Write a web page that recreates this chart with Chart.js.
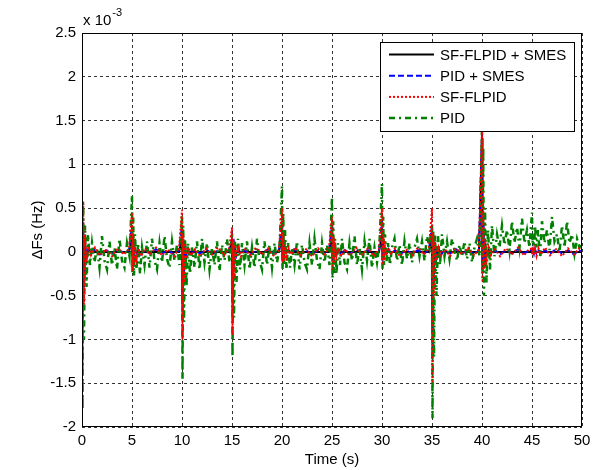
<!DOCTYPE html>
<html>
<head>
<meta charset="utf-8">
<script src="https://cdn.jsdelivr.net/npm/chart.js@4.4.1/dist/chart.umd.min.js"></script>
<style>
    html, body { margin: 0; padding: 0; background: #fff; }
    #freqChart { display: block; }
</style>
</head>
<body>
<canvas id="freqChart" width="596" height="470"></canvas>
<script>
// time axis for the controller responses with SMES / fuzzy (coarser sampling)
const tCoarse = [
    0, 0.05, 0.12, 0.2, 0.3, 0.45, 0.65, 0.9, 1.3, 1.8, 2.4, 3, 3.6, 4.2, 4.7,
    5, 5.05, 5.12, 5.2, 5.3, 5.45, 5.65, 5.9, 6.3, 6.8, 7.4, 8, 8.6, 9.2, 9.7,
    10, 10.05, 10.12, 10.2, 10.3, 10.45, 10.65, 10.9, 11.3, 11.8, 12.4, 13, 13.6, 14.2, 14.7,
    15, 15.05, 15.12, 15.2, 15.3, 15.45, 15.65, 15.9, 16.3, 16.8, 17.4, 18, 18.6, 19.2, 19.7,
    20, 20.05, 20.12, 20.2, 20.3, 20.45, 20.65, 20.9, 21.3, 21.8, 22.4, 23, 23.6, 24.2, 24.7,
    25, 25.05, 25.12, 25.2, 25.3, 25.45, 25.65, 25.9, 26.3, 26.8, 27.4, 28, 28.6, 29.2, 29.7,
    30, 30.05, 30.12, 30.2, 30.3, 30.45, 30.65, 30.9, 31.3, 31.8, 32.4, 33, 33.6, 34.2, 34.7,
    35, 35.05, 35.12, 35.2, 35.3, 35.45, 35.65, 35.9, 36.3, 36.8, 37.4, 38, 38.6, 39.2, 39.7,
    40, 40.05, 40.12, 40.2, 40.3, 40.45, 40.65, 40.9, 41.3, 41.8, 42.4, 43, 43.6, 44.2, 44.7,
    45, 45.05, 45.12, 45.2, 45.3, 45.45, 45.65, 45.9, 46.3, 46.8, 47.4, 48, 48.6, 49.2, 49.7,
    50
];

// time axis for plain PID (it oscillates, so sampled finer)
const tPid = [
    0, 0.05, 0.12, 0.2, 0.3, 0.45, 0.6, 0.8, 1, 1.25, 1.5, 1.75, 2, 2.25, 2.5, 2.75, 3, 3.25, 3.5, 3.75, 4, 4.25, 4.5, 4.75,
    5, 5.05, 5.12, 5.2, 5.3, 5.45, 5.6, 5.8, 6, 6.25, 6.5, 6.75, 7, 7.25, 7.5, 7.75, 8, 8.25, 8.5, 8.75, 9, 9.25, 9.5, 9.75,
    10, 10.05, 10.12, 10.2, 10.3, 10.45, 10.6, 10.8, 11, 11.25, 11.5, 11.75, 12, 12.25, 12.5, 12.75, 13, 13.25, 13.5, 13.75, 14, 14.25, 14.5, 14.75,
    15, 15.05, 15.12, 15.2, 15.3, 15.45, 15.6, 15.8, 16, 16.25, 16.5, 16.75, 17, 17.25, 17.5, 17.75, 18, 18.25, 18.5, 18.75, 19, 19.25, 19.5, 19.75,
    20, 20.05, 20.12, 20.2, 20.3, 20.45, 20.6, 20.8, 21, 21.25, 21.5, 21.75, 22, 22.25, 22.5, 22.75, 23, 23.25, 23.5, 23.75, 24, 24.25, 24.5, 24.75,
    25, 25.05, 25.12, 25.2, 25.3, 25.45, 25.6, 25.8, 26, 26.25, 26.5, 26.75, 27, 27.25, 27.5, 27.75, 28, 28.25, 28.5, 28.75, 29, 29.25, 29.5, 29.75,
    30, 30.05, 30.12, 30.2, 30.3, 30.45, 30.6, 30.8, 31, 31.25, 31.5, 31.75, 32, 32.25, 32.5, 32.75, 33, 33.25, 33.5, 33.75, 34, 34.25, 34.5, 34.75,
    35, 35.05, 35.12, 35.2, 35.3, 35.45, 35.6, 35.8, 36, 36.25, 36.5, 36.75, 37, 37.25, 37.5, 37.75, 38, 38.25, 38.5, 38.75, 39, 39.25, 39.5, 39.75,
    40, 40.05, 40.12, 40.2, 40.3, 40.45, 40.6, 40.8, 41, 41.25, 41.5, 41.75, 42, 42.25, 42.5, 42.75, 43, 43.25, 43.5, 43.75, 44, 44.25, 44.5, 44.75,
    45, 45.05, 45.12, 45.2, 45.3, 45.45, 45.6, 45.8, 46, 46.25, 46.5, 46.75, 47, 47.25, 47.5, 47.75, 48, 48.25, 48.5, 48.75, 49, 49.25, 49.5, 49.75,
    50
];

// deviation values in units of 1e-3 Hz
const sfflpidSmes = [
    0, -0.7, 0.2, -0.25, 0.05, -0.03, 0.02, 0, 0, 0, 0, 0, 0, 0, 0,
    0.15, -0.05, 0.05, -0.02, 0.01, 0, 0, 0, 0, 0, 0, 0, 0, 0, 0,
    0.15, -0.6, 0.05, -0.1, 0.02, 0, 0, 0, 0, 0, 0, 0, 0, 0, 0,
    0.1, -0.5, 0.05, -0.08, 0.02, 0, 0, 0, 0, 0, 0, 0, 0, 0, 0,
    0.2, -0.05, 0.08, -0.02, 0.01, 0, 0, 0, 0, 0, 0, 0, 0, 0, 0,
    0.15, -0.05, 0.06, -0.02, 0.01, 0, 0, 0, 0, 0, 0, 0, 0, 0, 0,
    0.2, -0.05, 0.08, -0.02, 0.01, 0, 0, 0, 0, 0, 0, 0, 0, 0, 0,
    0.15, -0.9, 0.1, -0.25, 0.05, -0.02, 0, 0, 0, 0, 0, 0, 0, 0, 0,
    1.3, -0.2, 0.4, -0.15, 0.1, -0.05, 0.02, 0, 0, 0, 0, 0, 0, 0, 0,
    0, 0, 0, 0, 0, 0, 0, 0, 0, 0, 0, 0, 0, 0, 0,
    0
];

const pidSmes = [
    0, -1.0, 0.35, -0.4, 0.12, -0.08, 0.04, -0.02, 0.03, -0.03, 0.02, -0.02, 0.03, -0.02, 0.02,
    0.3, -0.1, 0.12, -0.08, 0.04, -0.03, 0.02, -0.03, 0.02, -0.02, 0.03, -0.02, 0.02, -0.03, 0.02,
    0.3, -0.8, 0.15, -0.25, 0.08, -0.05, 0.03, -0.03, 0.02, -0.02, 0.03, -0.03, 0.02, -0.02, 0.02,
    0.15, -0.7, 0.1, -0.22, 0.06, -0.04, 0.03, -0.02, 0.02, -0.03, 0.02, -0.02, 0.03, -0.02, 0.02,
    0.35, -0.1, 0.15, -0.06, 0.04, -0.03, 0.02, -0.02, 0.03, -0.02, 0.02, -0.03, 0.02, -0.02, 0.02,
    0.3, -0.12, 0.12, -0.06, 0.04, -0.03, 0.02, -0.03, 0.02, -0.02, 0.03, -0.02, 0.02, -0.03, 0.02,
    0.35, -0.1, 0.15, -0.05, 0.04, -0.02, 0.03, -0.02, 0.02, -0.03, 0.02, -0.02, 0.02, -0.02, 0.03,
    0.3, -1.2, 0.15, -0.4, 0.1, -0.08, 0.04, -0.03, 0.02, -0.02, 0.03, -0.02, 0.02, -0.03, 0.02,
    1.35, -0.15, 0.45, -0.1, 0.12, -0.05, 0.04, -0.03, 0.02, -0.03, 0.02, -0.02, 0.03, -0.02, 0.02,
    0.02, -0.03, 0.02, -0.02, 0.03, -0.02, 0.02, -0.03, 0.02, -0.02, 0.03, -0.02, 0.02, -0.03, 0.02,
    0
];

const sfflpidOnly = [
    0, -1.3, 0.58, -0.6, 0.2, -0.12, 0.06, -0.04, 0.05, -0.04, 0.03, -0.05, 0.04, -0.03, 0.04,
    0.45, -0.22, 0.2, -0.15, 0.06, -0.08, 0.04, -0.05, 0.04, -0.03, 0.05, -0.04, 0.03, -0.05, 0.04,
    0.48, -1.0, 0.2, -0.35, 0.1, -0.08, 0.05, -0.04, 0.03, -0.05, 0.04, -0.03, 0.05, -0.04, 0.03,
    0.28, -0.95, 0.15, -0.3, 0.08, -0.06, 0.04, -0.05, 0.03, -0.04, 0.05, -0.03, 0.04, -0.05, 0.03,
    0.5, -0.12, 0.2, -0.1, 0.06, -0.05, 0.04, -0.03, 0.05, -0.04, 0.03, -0.05, 0.04, -0.03, 0.04,
    0.4, -0.2, 0.18, -0.12, 0.06, -0.05, 0.04, -0.05, 0.03, -0.04, 0.05, -0.03, 0.04, -0.05, 0.03,
    0.5, -0.15, 0.2, -0.1, 0.06, -0.04, 0.05, -0.03, 0.04, -0.05, 0.03, -0.04, 0.05, -0.03, 0.04,
    0.5, -1.5, 0.2, -0.5, 0.12, -0.1, 0.05, -0.04, 0.03, -0.05, 0.04, -0.03, 0.05, -0.04, 0.03,
    1.4, -0.35, 0.5, -0.2, 0.15, -0.08, 0.05, -0.04, 0.03, -0.05, 0.04, -0.03, 0.05, -0.04, 0.03,
    0.04, -0.03, 0.05, -0.04, 0.03, -0.05, 0.04, -0.03, 0.05, -0.04, 0.03, -0.05, 0.04, -0.03, 0.04,
    0
];

const pidOnly = [
    0, -1.8, 0.55, -1.0, 0.3, -0.4, 0.2, -0.15, 0.1, -0.12, 0.05, -0.18, 0.18, -0.1, -0.2, 0.12, -0.15, 0.05, -0.2, 0.15, -0.1, -0.18, 0.1, -0.05,
    0.65, -0.25, 0.4, -0.27, 0.2, -0.2, 0.1, -0.25, 0.05, -0.15, 0.12, -0.18, 0.15, -0.1, -0.2, 0.1, -0.12, 0.18, -0.08, -0.18, 0.12, -0.1, 0.08, -0.15,
    0.42, -1.45, 0.3, -0.8, 0.15, -0.4, 0.1, -0.25, 0.05, -0.18, 0.12, -0.2, 0.15, -0.12, 0.1, -0.2, 0.05, -0.15, 0.12, -0.22, 0.08, -0.1, 0.15, -0.12,
    0.2, -1.2, 0.1, -0.75, 0.12, -0.35, 0.15, -0.2, 0.1, -0.15, 0.12, -0.2, 0.05, -0.18, 0.15, -0.1, -0.2, 0.12, -0.15, 0.08, -0.18, 0.1, -0.12, 0.05,
    0.75, -0.2, 0.45, -0.15, 0.25, -0.2, 0.1, -0.18, 0.05, -0.15, 0.12, -0.2, 0.08, -0.12, -0.2, 0.1, -0.15, 0.15, -0.1, -0.2, 0.1, -0.12, 0.08, -0.15,
    0.63, -0.3, 0.35, -0.25, 0.15, -0.25, 0.1, -0.15, 0.15, -0.12, -0.2, 0.1, -0.1, 0.18, -0.15, 0.05, -0.2, 0.12, -0.1, 0.15, -0.18, 0.05, -0.12, 0.1,
    0.78, -0.2, 0.4, -0.15, 0.2, -0.12, 0.1, -0.15, 0.05, 0.15, -0.1, 0.08, -0.15, 0.12, -0.08, 0.1, -0.12, 0.05, 0.15, -0.05, 0.12, -0.1, 0.18, 0.05,
    0.3, -1.9, 0.25, -1.2, 0.2, -0.5, 0.18, -0.15, 0.2, -0.05, 0.12, -0.08, 0.15, 0.02, -0.1, 0.08, -0.05, 0.12, -0.08, 0.1, -0.12, 0.05, 0.15, -0.05,
    1.4, -0.3, 1.2, -0.5, 0.5, -0.35, 0.25, -0.2, 0.3, -0.05, 0.2, 0.05, 0.3, 0.08, 0.25, 0.02, 0.35, 0.1, 0.28, 0.05, 0.38, 0.1, 0.25, 0.05,
    0.45, 0.1, 0.2, 0, 0.3, 0.05, 0.25, -0.05, 0.35, 0.1, 0.25, 0.02, 0.4, 0.12, 0.2, 0, 0.3, 0.05, 0.35, 0.1, 0.2, -0.02, 0.15, 0.05,
    0.1
];

const seriesLabels = ['SF-FLPID + SMES', 'PID + SMES', 'SF-FLPID', 'PID'];
const xTicks = [0, 5, 10, 15, 20, 25, 30, 35, 40, 45, 50];
const yTicks = [-2, -1.5, -1, -0.5, 0, 0.5, 1, 1.5, 2, 2.5];

const fontFamily = '"Liberation Sans", Arial, Helvetica, sans-serif';

function toPoints(times, values) {
    return values.map((v, i) => ({ x: times[i], y: v }));
}

// MATLAB-like box, legend inside the axes and the exponent label
const matlabFrame = {
    id: 'matlabFrame',
    afterDatasetsDraw(chart) {
        const ctx = chart.ctx;
        const area = chart.chartArea;
        ctx.save();

        ctx.strokeStyle = '#000';
        ctx.lineWidth = 1;
        ctx.setLineDash([]);
        ctx.strokeRect(area.left + 0.5, area.top + 0.5, area.right - area.left - 1, area.bottom - area.top - 1);

        // exponent
        ctx.fillStyle = '#000';
        ctx.textAlign = 'left';
        ctx.textBaseline = 'alphabetic';
        ctx.font = '15px ' + fontFamily;
        ctx.fillText('x 10', area.left + 1, area.top - 8);
        const w = ctx.measureText('x 10').width;
        ctx.font = '11px ' + fontFamily;
        ctx.fillText('-3', area.left + 2 + w, area.top - 17);

        // legend box
        const bx = area.right - 202;
        const by = area.top + 9;
        const bw = 194;
        const bh = 89;
        ctx.fillStyle = '#fff';
        ctx.fillRect(bx, by, bw, bh);
        ctx.strokeStyle = '#000';
        ctx.strokeRect(bx + 0.5, by + 0.5, bw, bh);

        ctx.font = '15px ' + fontFamily;
        ctx.textBaseline = 'middle';
        chart.data.datasets.forEach((ds, i) => {
            const ly = by + 12.5 + i * 21.2;
            ctx.strokeStyle = ds.borderColor;
            ctx.lineWidth = ds.borderWidth;
            ctx.setLineDash(ds.borderDash || []);
            ctx.beginPath();
            ctx.moveTo(bx + 9, ly);
            ctx.lineTo(bx + 54, ly);
            ctx.stroke();
            ctx.fillStyle = '#000';
            ctx.fillText(ds.label, bx + 60, ly + 1);
        });
        ctx.restore();
    }
};

const freqCtx = document.getElementById('freqChart').getContext('2d');

const freqConfig = {
    type: 'line',
    data: {
        datasets: [
            {
                label: seriesLabels[0],
                data: toPoints(tCoarse, sfflpidSmes),
                borderColor: '#000000',
                borderWidth: 2,
                order: 4
            },
            {
                label: seriesLabels[1],
                data: toPoints(tCoarse, pidSmes),
                borderColor: '#0000ff',
                borderWidth: 2,
                borderDash: [6, 3],
                order: 3
            },
            {
                label: seriesLabels[2],
                data: toPoints(tCoarse, sfflpidOnly),
                borderColor: '#ff0000',
                borderWidth: 2,
                borderDash: [2, 2],
                order: 1
            },
            {
                label: seriesLabels[3],
                data: toPoints(tPid, pidOnly),
                borderColor: '#008000',
                borderWidth: 2.5,
                borderDash: [6, 4, 2, 4],
                order: 2
            }
        ]
    },
    options: {
        responsive: false,
        animation: false,
        devicePixelRatio: 1,
        elements: {
            point: { radius: 0 },
            line: { tension: 0, fill: false }
        },
        layout: {
            padding: { left: 23, top: 33, right: 14, bottom: 0 }
        },
        scales: {
            x: {
                type: 'linear',
                min: 0,
                max: 50,
                afterBuildTicks: scale => { scale.ticks = xTicks.map(v => ({ value: v })); },
                afterFit: scale => { scale.height = 43; },
                grid: { color: '#333', lineWidth: 1, drawTicks: false },
                border: { display: false, dash: [3, 3] },
                ticks: {
                    color: '#000',
                    padding: 5,
                    maxRotation: 0,
                    font: { family: fontFamily, size: 15 },
                    callback: v => String(v)
                },
                title: {
                    display: true,
                    text: 'Time (s)',
                    color: '#000',
                    padding: { top: 0, bottom: 1 },
                    font: { family: fontFamily, size: 15 }
                }
            },
            y: {
                type: 'linear',
                min: -2,
                max: 2.5,
                afterBuildTicks: scale => { scale.ticks = yTicks.map(v => ({ value: v })); },
                afterFit: scale => { scale.width = 59; },
                grid: { color: '#333', lineWidth: 1, drawTicks: false },
                border: { display: false, dash: [3, 3] },
                ticks: {
                    color: '#000',
                    padding: 6,
                    font: { family: fontFamily, size: 15 },
                    callback: v => String(v)
                },
                title: {
                    display: true,
                    text: 'ΔFs (Hz)',
                    color: '#000',
                    padding: { top: 6, bottom: 0 },
                    font: { family: fontFamily, size: 15 }
                }
            }
        },
        plugins: {
            legend: { display: false },
            tooltip: { enabled: false }
        }
    },
    plugins: [matlabFrame]
};

const freqChart = new Chart(freqCtx, freqConfig);
</script>
</body>
</html>
